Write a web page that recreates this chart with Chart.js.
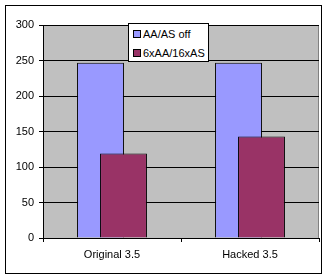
<!DOCTYPE html>
<html><head><meta charset="utf-8">
<script src="https://cdn.jsdelivr.net/npm/chart.js@4"></script>
<style>
html,body{margin:0;padding:0;background:#fff;}
#wrap{position:relative;width:327px;height:280px;}
#frame{position:absolute;left:5px;top:5px;width:315px;height:267px;border:1px solid #000;pointer-events:none;}
#c{position:absolute;left:0;top:0;}
#legend{position:absolute;left:128px;top:23px;width:79px;height:37px;background:#fff;border:1px solid #000;font:11px "Liberation Sans",Arial,sans-serif;color:#000;}
.item{position:absolute;left:4px;height:14px;line-height:14px;white-space:nowrap;}
.sw{display:inline-block;width:6px;height:6px;border:1px solid #000;margin-right:2px;vertical-align:0px;}
</style></head>
<body>
<div id="wrap">
<canvas id="c" width="327" height="280"></canvas>
<div id="frame"></div>
<div id="legend"></div>
</div>
<script>
const categories = ["Original 3.5", "Hacked 3.5"];
const seriesNames = ["AA/AS off", "6xAA/16xAS"];
const aaOff = [247, 247];
const aa6x = [119, 143];
const yTicks = [0, 50, 100, 150, 200, 250, 300];
const colors = ["#9999FF", "#993366"];

const bgPlugin = {
  id: 'bg',
  beforeDraw(chart) {
    const {ctx, chartArea: a} = chart;
    ctx.save();
    ctx.fillStyle = '#C0C0C0';
    ctx.fillRect(a.left, a.top, a.right - a.left, a.bottom - a.top);
    ctx.strokeStyle = '#808080';
    ctx.lineWidth = 1;
    ctx.beginPath();
    ctx.moveTo(Math.round(a.right) - 0.5, a.top);
    ctx.lineTo(Math.round(a.right) - 0.5, a.bottom);
    ctx.stroke();
    ctx.restore();
  }
};

// Draw the second series after the first so it overlaps it (as in Excel)
let lateDraw = false;
const orderPlugin = {
  id: 'overlapOrder',
  beforeDatasetDraw(chart, args) {
    if (args.index === 1 && !lateDraw) return false;
  },
  afterDatasetsDraw(chart) {
    lateDraw = true;
    chart.getDatasetMeta(1).controller.draw();
    lateDraw = false;
  }
};

const font = {family: '"Liberation Sans", Arial, sans-serif', size: 11};

new Chart(document.getElementById('c'), {
  type: 'bar',
  data: {
    labels: categories,
    datasets: [
      {label: seriesNames[0], data: aaOff, backgroundColor: colors[0], borderColor: '#000', borderWidth: 1},
      {label: seriesNames[1], data: aa6x, backgroundColor: colors[1], borderColor: '#000', borderWidth: 1}
    ]
  },
  options: {
    responsive: false,
    animation: false,
    devicePixelRatio: 1,
    categoryPercentage: 0.3333,
    barPercentage: 2.04,
    layout: {padding: {left: 0, right: 8, top: 25, bottom: 0}},
    plugins: {legend: {display: false}, tooltip: {enabled: false}},
    scales: {
      x: {
        grid: {offset: true, drawOnChartArea: false, drawTicks: true, tickLength: 4, color: '#000'},
        border: {display: true, color: '#000', width: 1},
        ticks: {color: '#000', font: font, padding: 6},
        afterFit(s) { s.height = 42; }
      },
      y: {
        min: 0, max: 300,
        afterBuildTicks(s) { s.ticks = yTicks.map(v => ({value: v})); },
        grid: {color: '#000', drawTicks: true, tickLength: 4},
        border: {display: true, color: '#000', width: 1},
        ticks: {color: '#000', font: font, padding: 5},
        afterFit(s) { s.width = 43; }
      }
    }
  },
  plugins: [bgPlugin, orderPlugin]
});

const lg = document.getElementById('legend');
seriesNames.forEach((n, i) => {
  const d = document.createElement('div');
  d.className = 'item';
  d.style.top = (3 + i * 19) + 'px';
  d.innerHTML = '<span class="sw" style="background:' + colors[i] + '"></span>' + n;
  lg.appendChild(d);
});
</script>
</body></html>
